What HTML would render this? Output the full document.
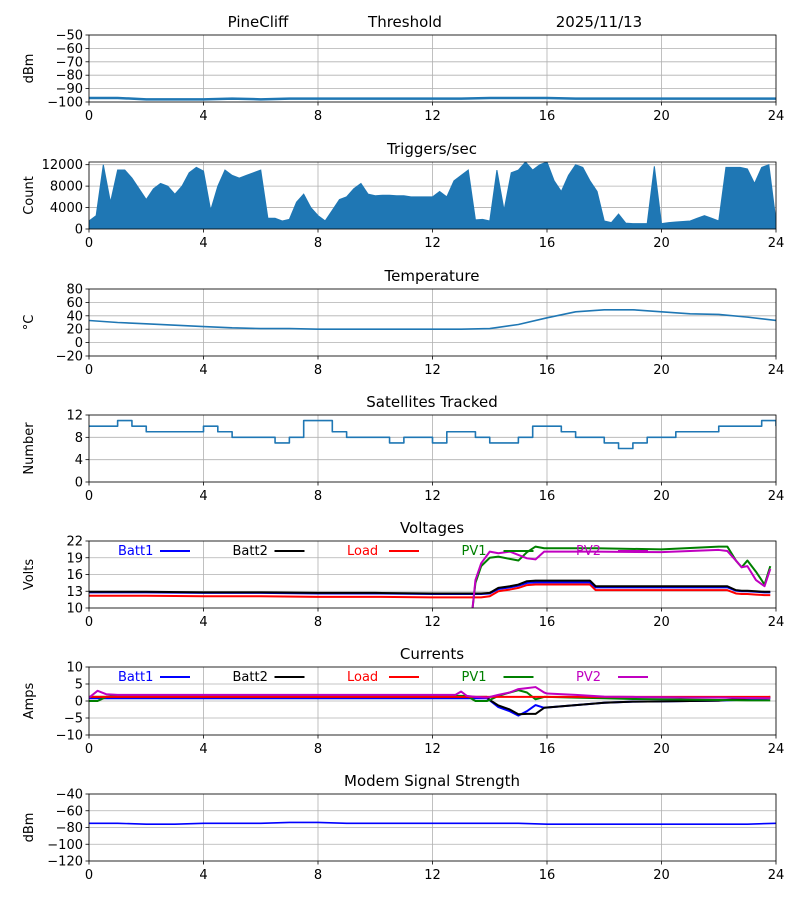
<!DOCTYPE html>
<html><head><meta charset="utf-8"><style>
body{margin:0;background:#fff}
svg{display:block;font-family:"DejaVu Sans","Liberation Sans",sans-serif}
</style></head><body>
<svg id="fig" width="800" height="900" viewBox="0 0 800 900" xmlns="http://www.w3.org/2000/svg">
<rect width="800" height="900" fill="#fff"/>
<text x="258" y="27" font-size="15" text-anchor="middle">PineCliff</text>
<text x="405" y="27" font-size="15" text-anchor="middle">Threshold</text>
<text x="599" y="27" font-size="15" text-anchor="middle">2025/11/13</text>
</svg>
<script>
const xTicks=[0,4,8,12,16,20,24];
// Panel 1 signal
const sigT=[0,1,2,3,4,5,6,7,8,9,10,11,12,13,14,15,16,17,18,19,20,21,22,23,24];
const sigV=[-97,-97,-98,-98,-98,-97.5,-98,-97.5,-97.5,-97.5,-97.5,-97.5,-97.5,-97.5,-97,-97,-97,-97.5,-97.5,-97.5,-97.5,-97.5,-97.5,-97.5,-97.5];
// Panel 2 triggers (upper envelope, every 0.25h)
const trigV=[1500,2500,12000,5000,11000,11000,9500,7500,5500,7500,8500,8000,6500,8000,10500,11500,10800,3500,8000,11000,10000,9500,10000,10500,11000,2000,2000,1500,1800,5000,6500,4000,2500,1500,3500,5500,6000,7500,8500,6500,6200,6300,6300,6200,6200,6000,6000,6000,6000,7000,6000,9000,10000,11000,1700,1800,1500,11000,3500,10500,11000,12500,11000,12000,12500,9000,7000,10000,12000,11500,9000,7000,1500,1200,2800,1100,1000,1000,1000,11700,1000,1200,1300,1400,1500,2000,2500,2000,1500,11500,11500,11500,11200,8500,11500,12000,1500];
// Panel 3 temperature
const tempT=[0,1,2,3,4,5,6,7,8,9,10,11,12,13,14,15,16,17,18,19,20,21,22,23,24];
const tempV=[33,30,28,26,24,22,21,21,20,20,20,20,20,20,21,27,37,46,49,49,46,43,42,38,33];
// Panel 4 satellites (every 0.5h)
const satV=[10,10,11,10,9,9,9,9,10,9,8,8,8,7,8,11,11,9,8,8,8,7,8,8,7,9,9,8,7,7,8,10,10,9,8,8,7,6,7,8,8,9,9,9,10,10,10,11,10];
// Panel 5 voltages
const vT=[0,2,4,6,8,10,12,13,13.4,13.5,13.7,14,14.3,14.7,15,15.3,15.6,15.9,17.5,17.7,20,22,22.3,22.6,22.8,23,23.3,23.6,23.8];
const vBatt1=[12.8,12.8,12.7,12.7,12.6,12.6,12.5,12.5,12.5,12.5,12.5,12.6,13.4,13.7,14.0,14.5,14.6,14.6,14.6,13.7,13.7,13.7,13.7,13.1,13.0,13.0,12.9,12.8,12.8];
const vBatt2=[12.9,12.9,12.8,12.8,12.7,12.7,12.6,12.6,12.6,12.6,12.6,12.7,13.6,13.9,14.2,14.8,14.9,14.9,14.9,13.9,13.9,13.9,13.9,13.2,13.1,13.1,13.0,12.9,12.9];
const vLoad=[12.2,12.2,12.1,12.1,12.0,12.0,11.9,11.9,11.9,11.9,11.9,12.1,13.0,13.3,13.6,14.1,14.2,14.2,14.2,13.2,13.2,13.2,13.2,12.6,12.5,12.5,12.4,12.3,12.3];
const vPV1=[null,null,null,null,null,null,null,null,10,14.5,17.5,19.0,19.2,18.8,18.5,20.0,21.0,20.7,20.7,20.7,20.5,21.0,21.0,18.5,17.3,18.5,16.5,14.2,17.5];
const vPV2=[null,null,null,null,null,null,null,null,10,15,18,20.1,19.8,20.1,19.5,18.9,18.7,20.1,20.1,20.1,20.0,20.4,20.2,18.5,17.3,17.5,15.0,13.9,17.0];
// Panel 6 currents
const cT=[0,0.3,0.6,1,4,8,12,12.8,13.0,13.2,13.5,13.9,14.0,14.3,14.7,15.0,15.3,15.6,15.9,16,17,18,19,20,21,22,23,23.8];
const cBatt1=[0.8,0.8,0.8,0.8,0.8,0.8,0.8,0.8,0.8,0.8,0.8,0.8,0.2,-1.8,-3.0,-4.3,-3.0,-1.2,-2.0,-1.9,-1.2,-0.5,-0.2,-0.1,0,0.1,0.4,0.8];
const cBatt2=[1.2,1.2,1.2,1.2,1.2,1.2,1.2,1.2,1.2,1.2,1.2,1.2,0.3,-1.3,-2.5,-3.9,-3.8,-3.8,-2.0,-1.9,-1.2,-0.5,-0.2,-0.1,0,0.1,0.8,1.2];
const cLoad=[1.2,1.2,1.2,1.2,1.2,1.2,1.2,1.2,1.2,1.2,1.2,1.2,1.2,1.2,1.2,1.2,1.2,1.2,1.2,1.2,1.2,1.2,1.2,1.2,1.2,1.2,1.2,1.2];
const cPV1=[0,0,1.2,1.5,1.5,1.5,1.5,1.5,1.5,1.5,0,0,0.3,1.5,2.5,3.2,2.5,0.5,1.2,1.2,1,0.8,0.6,0.5,0.4,0.3,0.2,0.2];
const cPV2=[1,3,2,1.8,1.8,1.8,1.8,1.8,2.8,1.5,1.2,1,1.2,1.8,2.5,3.5,3.8,4.1,2.5,2.2,1.8,1.3,1.2,1.1,1,1,0.9,0.8];
// Panel 7 modem
const mT=[0,1,2,3,4,5,6,7,8,9,10,11,12,13,14,15,16,17,18,19,20,21,22,23,24];
const mV=[-75,-75,-76,-76,-75,-75,-75,-74,-74,-75,-75,-75,-75,-75,-75,-75,-76,-76,-76,-76,-76,-76,-76,-76,-75];

const NS='http://www.w3.org/2000/svg';
const fig=document.getElementById('fig');
const X0=89,X1=776;
function mk(tag,attrs,parent){const e=document.createElementNS(NS,tag);for(const k in attrs)e.setAttribute(k,attrs[k]);(parent||fig).appendChild(e);return e;}
function xs(t){return X0+(X1-X0)*t/24;}
const panels=[
 {key:'signal',top:35,bot:102,ymin:-100,ymax:-50,ticks:[-100,-90,-80,-70,-60,-50],lab:v=>String(v).replace('-','\u2212'),ylabel:'dBm'},
 {key:'triggers',top:162,bot:229,ymin:0,ymax:12500,ticks:[0,4000,8000,12000],lab:String,ylabel:'Count',title:'Triggers/sec'},
 {key:'temperature',top:289,bot:356,ymin:-20,ymax:80,ticks:[-20,0,20,40,60,80],lab:v=>String(v).replace('-','\u2212'),ylabel:'\u00B0C',title:'Temperature'},
 {key:'satellites',top:415,bot:482,ymin:0,ymax:12,ticks:[0,4,8,12],lab:String,ylabel:'Number',title:'Satellites Tracked'},
 {key:'voltages',top:541,bot:608,ymin:10,ymax:22,ticks:[10,13,16,19,22],lab:String,ylabel:'Volts',title:'Voltages'},
 {key:'currents',top:667,bot:735,ymin:-10,ymax:10,ticks:[-10,-5,0,5,10],lab:v=>String(v).replace('-','\u2212'),ylabel:'Amps',title:'Currents'},
 {key:'modem',top:794,bot:861,ymin:-120,ymax:-40,ticks:[-120,-100,-80,-60,-40],lab:v=>String(v).replace('-','\u2212'),ylabel:'dBm',title:'Modem Signal Strength'}
];
const P={};
panels.forEach(p=>{
 p.ys=v=>p.bot-(p.bot-p.top)*(v-p.ymin)/(p.ymax-p.ymin);
 P[p.key]=p;
 const g=mk('g',{});
 
 
 p.g=g;
 xTicks.forEach(t=>{
  const l=mk('line',{x1:xs(t),x2:xs(t),y1:p.top,y2:p.bot,stroke:'#b0b0b0','stroke-width':0.8},g);
  
  
  const tk=mk('line',{x1:xs(t),x2:xs(t),y1:p.bot,y2:p.bot+3.5,stroke:'#000','stroke-width':0.8},g);
  
  
  const tx=mk('text',{x:xs(t),y:p.bot+18,'font-size':13,'text-anchor':'middle'},g);
  tx.textContent=t;
  
  
 });
 p.ticks.forEach(v=>{
  const y=p.ys(v);
  const l=mk('line',{x1:X0,x2:X1,y1:y,y2:y,stroke:'#b0b0b0','stroke-width':0.8},g);
  
  
  const tk=mk('line',{x1:X0-3.5,x2:X0,y1:y,y2:y,stroke:'#000','stroke-width':0.8},g);
  
  
  const tx=mk('text',{x:X0-6,y:y+4.5,'font-size':13,'text-anchor':'end'},g);
  tx.textContent=p.lab(v);
  
  
 });
 const yl=mk('text',{x:0,y:0,'font-size':13,'text-anchor':'middle',transform:`translate(33,${(p.top+p.bot)/2}) rotate(-90)`},g);
 yl.textContent=p.ylabel;
 
 
 if(p.title){
  const tt=mk('text',{x:432,y:p.top-8,'font-size':15,'text-anchor':'middle'},g);
  tt.textContent=p.title;
  
  
 }
 p.plot=mk('g',{},g);
});
function clipFor(p){
 const id='clip-'+p.key;
 const cp=mk('clipPath',{id:id});
 mk('rect',{x:X0,y:p.top,width:X1-X0,height:p.bot-p.top},cp);
 p.plot.setAttribute('clip-path',`url(#${id})`);
}
panels.forEach(clipFor);
function line(p,T,V,color,w,name,step){
 let d='',pen=false;
 for(let i=0;i<T.length;i++){
  if(V[i]===null){pen=false;continue;}
  const x=xs(T[i]),y=p.ys(V[i]);
  if(!pen){d+=`M${x},${y}`;pen=true;}
  else if(step){d+=`H${x}V${y}`;}
  else d+=`L${x},${y}`;
 }
 const e=mk('path',{d:d,fill:'none',stroke:color,'stroke-width':w,'stroke-linejoin':'round'},p.plot);
 
 
}
const BLUE='#1f77b4';
line(P.signal,sigT,sigV,BLUE,2.5,'signal-line');
// triggers filled envelope
(function(){
 const p=P.triggers;let d=`M${xs(0)},${p.ys(0)}`;
 trigV.forEach((v,i)=>{d+=`L${xs(i*0.25)},${p.ys(v)}`;});
 d+=`L${xs(24)},${p.ys(0)}Z`;
 const e=mk('path',{d:d,fill:BLUE,stroke:BLUE,'stroke-width':1},p.plot);
 
 
})();
line(P.temperature,tempT,tempV,BLUE,1.6,'temperature-line');
line(P.satellites,satV.map((v,i)=>i*0.5),satV,BLUE,1.6,'satellites-line',true);
const series=[['Batt1','#0000ff'],['Batt2','#000000'],['Load','#ff0000'],['PV1','#008000'],['PV2','#c000c0']];
const vData=[vBatt1,vBatt2,vLoad,vPV1,vPV2],cData=[cBatt1,cBatt2,cLoad,cPV1,cPV2];
const vOrder=[2,0,1,3,4];
vOrder.forEach(i=>line(P.voltages,vT,vData[i],series[i][1],2,'voltage-'+series[i][0].toLowerCase()+'-line'));
[0,1,3,2,4].forEach(i=>line(P.currents,cT,cData[i],series[i][1],2,'current-'+series[i][0].toLowerCase()+'-line'));
line(P.modem,mT,mV,'#0000ff',1.6,'modem-line');
[P.voltages,P.currents].forEach(p=>{
 series.forEach((s,i)=>{
  const x=118+i*114.5,y=p.top+14;
  const t=mk('text',{x:x,y:y,'font-size':13,fill:s[1]},p.g);
  t.textContent=s[0];
  
  
  const l=mk('line',{x1:x+42,x2:x+72,y1:y-4,y2:y-4,stroke:s[1],'stroke-width':2},p.g);
  
  
 });
});
panels.forEach(p=>{
 const r=mk('rect',{x:X0,y:p.top,width:X1-X0,height:p.bot-p.top,fill:'none',stroke:'#000','stroke-width':0.8},p.g);
 
 
});
</script>
</body></html>
